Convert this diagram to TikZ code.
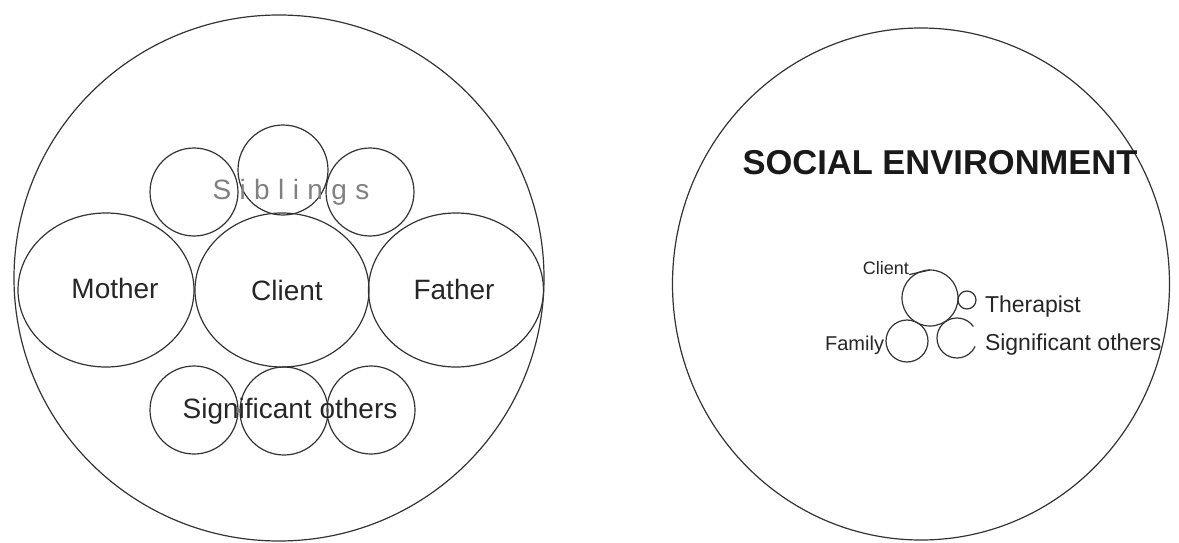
\documentclass[tikz,border=0pt]{standalone}
\usepackage{fontspec}
\setmainfont{Liberation Sans}
\usetikzlibrary{shapes.geometric}
\begin{document}
\begin{tikzpicture}[x=1pt,y=-1pt,
  ring/.style={draw=black!80, line width=1.2pt, inner sep=0pt, outer sep=0pt},
  oval/.style={ring, ellipse},
  disc/.style={ring, circle},
  lbl/.style={inner sep=0pt, outer sep=0pt, text=black!85, font=\fontsize{28}{30}\selectfont},
  smalllbl/.style={inner sep=0pt, outer sep=0pt, text=black!85, font=\fontsize{23}{25}\selectfont},
  titlelbl/.style={inner sep=0pt, outer sep=0pt, text=black!90, font=\fontsize{34.5}{36}\selectfont\bfseries}]
\useasboundingbox (0,0) rectangle (1179,543);

% ---------- left diagram ----------
\node[oval, minimum width=530pt, minimum height=526pt] (outerL) at (279,278) {};
\node[oval, minimum width=176pt, minimum height=154pt] (mother) at (106,290) {};
\node[oval, minimum width=174pt, minimum height=154pt] (client) at (282,290) {};
\node[oval, minimum width=175pt, minimum height=154pt] (father) at (456,290) {};

\node[disc, minimum size=88pt] (sib1) at (194,192) {};
\node[disc, minimum size=90pt] (sib2) at (283,170) {};
\node[disc, minimum size=88pt] (sib3) at (370,192) {};

\node[disc, minimum size=88pt] (so1) at (194,410) {};
\node[disc, minimum size=88pt] (so2) at (284,411) {};
\node[disc, minimum size=88pt] (so3) at (371,410) {};

\node[lbl] (tmother) at (115,288) {Mother};
\node[lbl] (tclient) at (287,290) {Client};
\node[lbl] (tfather) at (454,289) {Father};
\node[lbl, text=black!50, font=\fontsize{28}{30}\selectfont\addfontfeature{LetterSpace=30}] (tsib) at (291,192) {Siblings};
\node[lbl] (tso) at (290,411) {Significant others};

% ---------- right diagram ----------
\node[oval, minimum width=497pt, minimum height=512pt] (outerR) at (921,284) {};
\node[titlelbl] (title) at (940,163) {SOCIAL ENVIRONMENT};

\node[disc, minimum size=56pt] (rclient) at (930,298) {};
\node[disc, minimum size=18pt] (rther) at (967,300) {};
\node[disc, minimum size=42pt] (rfam) at (907,341) {};
\node[circle, inner sep=0pt, outer sep=0pt, minimum size=40pt] (rsig) at (957,338) {};
\draw[draw=black!80, line width=1.2pt] (rsig.35) arc[start angle=-35, end angle=-335, radius=20];

\node[inner sep=0pt, outer sep=0pt, text=black!85, font=\fontsize{18}{20}\selectfont, anchor=east] (lclient) at (909,268) {Client};
\draw[draw=black!80, line width=1.2pt] (lclient.south east) -- (rclient.north);
\node[smalllbl, anchor=west] (lther) at (985,307) {Therapist};
\node[inner sep=0pt, outer sep=0pt, text=black!85, font=\fontsize{20}{22}\selectfont, anchor=east] (lfam) at (884,345) {Family};
\node[smalllbl, anchor=west] (lsig) at (985,345) {Significant others};
\end{tikzpicture}
\end{document}
